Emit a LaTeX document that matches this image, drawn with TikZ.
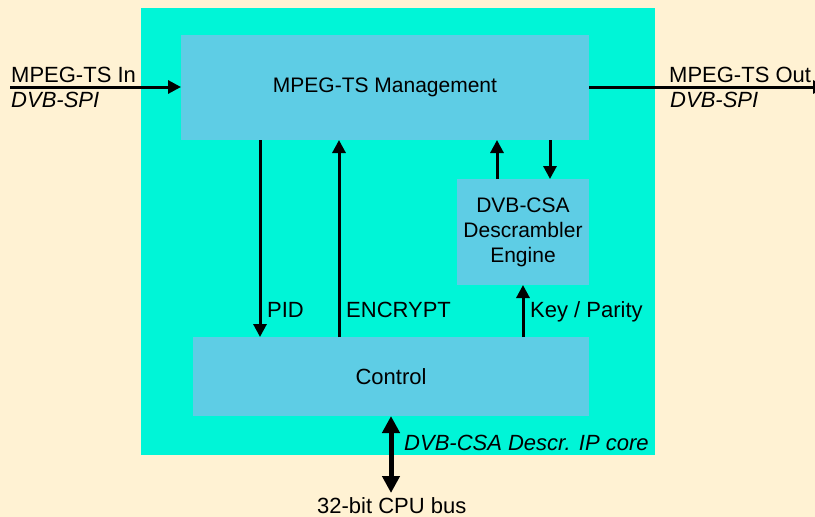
\documentclass[tikz,border=0pt]{standalone}
\usepackage{fontspec}
\setmainfont{Liberation Sans}
\usetikzlibrary{arrows.meta}
\definecolor{cream}{HTML}{FFF2D3}
\definecolor{corecyan}{HTML}{00F5D7}
\definecolor{blockblue}{HTML}{5ECDE5}
\tikzset{
  block/.style={fill=blockblue, draw=none, inner sep=0pt, outer sep=0pt, align=center, font=\fontsize{22}{25}\selectfont},
  lbl/.style={anchor=base west, inner sep=0pt, font=\fontsize{22}{25}\selectfont},
  ilbl/.style={lbl, font=\fontsize{22}{25}\selectfont\itshape},
  arr/.style={line width=3pt, -{Triangle[length=13pt,width=13pt]}},
  busarr/.style={line width=5pt, {Triangle[length=17pt,width=17pt]}-{Triangle[length=17pt,width=17pt]}}
}
\begin{document}
\begin{tikzpicture}[x=1pt,y=-1pt]
\clip (0,0) rectangle (815,517);
\fill[cream] (0,0) rectangle (815,517);
% IP core
\node[fill=corecyan, inner sep=0pt, outer sep=0pt, minimum width=514pt, minimum height=447pt] (core) at (398,231.5) {};
% blocks
\node[block, minimum width=408pt, minimum height=105pt, font=\fontsize{21}{25}\selectfont] (mgmt) at (385,87.5) {MPEG-TS Management};
\node[block, minimum width=132pt, minimum height=106pt, font=\fontsize{21}{25}\selectfont] (csa) at (523,232) {DVB-CSA\\Descrambler\\Engine};
\node[block, minimum width=396pt, minimum height=79pt] (ctrl) at (391,376.5) {Control};
% coordinates
\coordinate (inL) at (10,87);
\coordinate (outR) at (826,87);
\coordinate (xpid) at (260,0);
\coordinate (xenc) at (339,0);
\coordinate (xup) at (497,0);
\coordinate (xdn) at (550,0);
\coordinate (xkey) at (523,0);
\coordinate (xbus) at (391,0);
\coordinate (busEnd) at (391,493);
% connectors
\draw[arr] (inL) -- (mgmt.west |- inL);
\draw[arr] (mgmt.east |- outR) -- (outR);
\draw[arr] (mgmt.south -| xpid) -- (ctrl.north -| xpid);
\draw[arr] (ctrl.north -| xenc) -- (mgmt.south -| xenc);
\draw[arr] (csa.north -| xup) -- (mgmt.south -| xup);
\draw[arr] (mgmt.south -| xdn) -- (csa.north -| xdn);
\draw[arr] (ctrl.north -| xkey) -- (csa.south -| xkey);
\draw[busarr] (ctrl.south -| xbus) -- (busEnd);
% labels
\node[lbl] (tin) at (11,82) {MPEG-TS In};
\node[ilbl] (tinspi) at (11,107) {DVB-SPI};
\node[lbl] (tout) at (669,82) {MPEG-TS Out};
\node[ilbl] (toutspi) at (670,107) {DVB-SPI};
\node[lbl] (tpid) at (267,317) {PID};
\node[lbl] (tenc) at (346,317) {ENCRYPT};
\node[lbl] (tkey) at (530,317) {Key / Parity};
\node[ilbl] (tcore) at (404,450) {DVB-CSA Descr. IP core};
\node[lbl] (tbus) at (317,513) {32-bit CPU bus};
\end{tikzpicture}
\end{document}
